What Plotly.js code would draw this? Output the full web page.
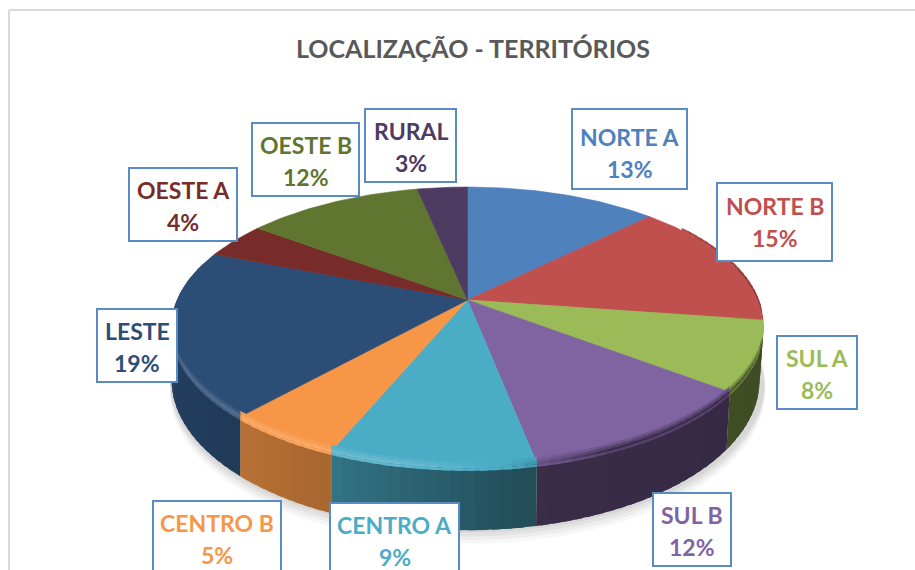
<!DOCTYPE html>
<html>
<head>
<meta charset="utf-8">
<script src="https://cdn.plot.ly/plotly-3.0.1.min.js"></script>
<style>html,body{margin:0;padding:0;background:#fff;overflow:hidden}#c{width:915px;height:570px}</style>
</head>
<body>
<div id="c"></div>
<script>
const categories = ['NORTE A','NORTE B','SUL A','SUL B','CENTRO A','CENTRO B','LESTE','OESTE A','OESTE B','RURAL'];
const shares = [12.6,14.7,8.0,11.6,9.4,5.4,19.2,4.2,11.6,3.3];
const colors = ['#4f81bd','#c0504d','#9bbb59','#8064a2','#4bacc6','#f79646','#2c4d75','#772c2a','#5f7530','#4d3b62'];
const chartTitle = 'LOCALIZAÇÃO - TERRITÓRIOS';

// label box [left, top, right, bottom, text offset] in the chart's coordinate system
const boxes = [[572,109,687,189,4],[717,183,832,261,0],[777,336,857,409,1],[653,493,731,566,1],[330,503,459,576,1],
               [153,501,281,574,1],[97,309,177,382,1],[129,168,237,241,1],[252,123,359,196,1],[365,109,456,182,1]];

// perspective of the tilted disc
const cx = 467.5, cy = 300, a = 290.4, b = 134.8, k = 0.193, depth = 51;
function proj(theta, drop){
  const u = Math.sin(theta), v = -Math.cos(theta), w = 1 - k*v;
  return [cx + a*u/w, cy + b*v/w + drop/w];
}
function projLow(theta){
  const p = proj(theta, depth), u = Math.sin(theta);
  return [p[0] - 4*Math.max(0,u), p[1]];
}
function rgb(h){return [1,3,5].map(i=>parseInt(h.substr(i,2),16));}
function mix(c,t,f){return 'rgb('+c.map((x,i)=>Math.round(x+(t[i]-x)*f)).join(',')+')';}
function wallFactor(u){
  const p=[[-1,.82],[-.68,.75],[-.4,.68],[.15,.45],[1,.4]];
  for(let i=0;i<p.length-1;i++) if(u<=p[i+1][0]){
    const t=(u-p[i][0])/(p[i+1][0]-p[i][0]); return p[i][1]+(p[i+1][1]-p[i][1])*t;
  }
  return .4;
}
const traces=[];
function poly(pts,color,fillcolor,lw){
  traces.push({type:'scatter',mode:'lines',x:pts.map(p=>p[0]),y:pts.map(p=>p[1]),fill:'toself',
    fillcolor:fillcolor||color,line:{color:color,width:fillcolor?0:(lw===undefined?0.6:lw)},hoverinfo:'skip',showlegend:false});
}
const total = shares.reduce((s,x)=>s+x,0);
const slices=[]; let acc=0;
shares.forEach((s,i)=>{const t0=acc/total*2*Math.PI; acc+=s; slices.push({t0,t1:acc/total*2*Math.PI,base:rgb(colors[i]),color:colors[i]});});

// soft shadow below the disc
[[11,.05],[8,.06],[5,.07],[2,.08]].forEach(([o,al])=>{
  const pts=[]; for(let d=0;d<=360;d+=3){const p=proj(d*Math.PI/180,depth+o);pts.push([cx+(p[0]-cx)*1.005,p[1]]);}
  poly(pts,'rgba(0,0,0,0)','rgba(90,90,90,'+al+')');
});

// side wall, segment by segment (each segment overlaps the next one so no seam shows)
const STEP=2*Math.PI/180, black=[0,0,0], white=[255,255,255], LAP=1.2*Math.PI/180;
const segs=[];
slices.forEach(s=>{
  const n=Math.max(1,Math.ceil((s.t1-s.t0)/STEP));
  for(let j=0;j<n;j++){
    const A=s.t0+(s.t1-s.t0)*j/n,B=s.t0+(s.t1-s.t0)*(j+1)/n,m=(A+B)/2;
    if(-Math.cos(m)>-0.25) segs.push({A,B,m,s,last:j===n-1});
  }
});
segs.forEach(g=>{
  const c=mix(g.s.base,black,1-wallFactor(Math.sin(g.m)));
  const B=g.last?g.B:g.B+LAP;
  poly([proj(g.A,0),proj(B,0),projLow(B),projLow(g.A),proj(g.A,0)],c,null,0);
});

// top surface
slices.forEach(s=>{
  const pts=[[cx,cy]]; const n=Math.ceil((s.t1-s.t0)/(Math.PI/180));
  for(let j=0;j<=n;j++) pts.push(proj(s.t0+(s.t1-s.t0)*j/n,0));
  pts.push([cx,cy]);
  poly(pts,s.color);
});

// rounded bevel along the rim: highlight on the left, dark on the right, blending smoothly
const bands=[[-5,-3,.10],[-3,-1,.22],[-1,1,.36],[1,3,.22]];
segs.forEach(g=>{
  const u=Math.sin(g.m),v=-Math.cos(g.m);
  const fade=Math.min(1,Math.max(0,(v-0.12)/0.35));
  if(fade<=0) return;
  const st=Math.max(-1,Math.min(1,(0.1-u)/0.3));
  bands.forEach(([d0,d1,f])=>{
    const amt=st>0 ? st*f*fade*0.55 : -st*f*fade*1.5;
    const B=g.last?g.B:g.B+LAP;
    poly([proj(g.A,d0),proj(B,d0),proj(B,d1),proj(g.A,d1),proj(g.A,d0)],mix(g.s.base,st>0?white:black,amt),null,0);
  });
});

// dark inner edge on the right rim, above the wall
slices.forEach(s=>{
  const t0=Math.max(s.t0,55*Math.PI/180),t1=Math.min(s.t1,110*Math.PI/180);
  if(t1<=t0) return;
  const n=Math.ceil((t1-t0)/STEP);
  for(let j=0;j<n;j++){
    const A=t0+(t1-t0)*j/n,B=t0+(t1-t0)*(j+1)/n;
    const f=0.08+0.35*((A-55*Math.PI/180)/(55*Math.PI/180));
    poly([proj(A,-3),proj(B+(j<n-1?LAP:0),-3),proj(B+(j<n-1?LAP:0),0),proj(A,0),proj(A,-3)],mix(s.base,black,f),null,0);
  }
});

// label boxes as shapes, each text line placed on its own
const LINE_GAP=32;
const annotations=[];
categories.forEach((name,i)=>{
  const q=boxes[i], mid=(q[1]+q[3])/2+q[4], xm=(q[0]+q[2])/2;
  [[name,-LINE_GAP/2],[Math.round(shares[i]/total*100)+'%',LINE_GAP/2]].forEach(([t,dy])=>{
    annotations.push({xref:'x',yref:'y',x:xm,y:mid+dy,xanchor:'center',yanchor:'middle',text:'<b>'+t+'</b>',showarrow:false,
      font:{family:'Lato, Carlito, sans-serif',size:23,color:colors[i]}});
  });
});
const labelShapes=boxes.map(q=>({type:'rect',xref:'x',yref:'y',x0:q[0],y0:q[1],x1:q[2],y1:q[3],
  fillcolor:'#ffffff',line:{color:'#5b8bc4',width:2},layer:'above'}));

const layout={
  width:915,height:570,margin:{l:0,r:0,t:0,b:0},paper_bgcolor:'#fff',plot_bgcolor:'#fff',showlegend:false,
  title:{text:'<b>'+chartTitle+'</b>',x:473/915,xanchor:'center',y:1-49/570,yanchor:'middle',
    font:{family:'Lato, Carlito, sans-serif',size:25,color:'#595959'}},
  xaxis:{range:[0,915],visible:false,fixedrange:true},
  yaxis:{range:[570,0],visible:false,fixedrange:true},
  shapes:[
    {type:'line',xref:'x',yref:'y',x0:9,y0:10,x1:915,y1:10,line:{color:'#d9d9d9',width:2},layer:'below'},
    {type:'line',xref:'x',yref:'y',x0:9,y0:10,x1:9,y1:570,line:{color:'#d9d9d9',width:2},layer:'below'}
  ].concat(labelShapes),
  annotations
};
Plotly.newPlot('c',traces,layout,{displayModeBar:false,staticPlot:true});
</script>
</body>
</html>
